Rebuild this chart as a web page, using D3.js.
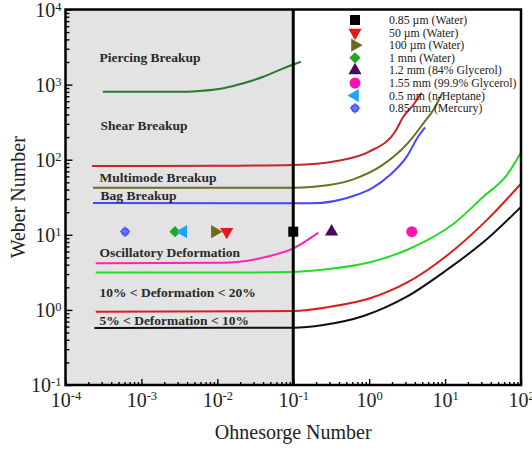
<!DOCTYPE html>
<html>
<head>
<meta charset="utf-8">
<script src="https://cdn.jsdelivr.net/npm/d3@7"></script>
<style>
  html, body { margin: 0; padding: 0; background: #fff; }
  svg { display: block; font-family: "Liberation Serif", "Times New Roman", serif; }
</style>
</head>
<body>
<svg id="chart" width="532" height="451"></svg>
<script>
// ---- Regime boundary curves: [Ohnesorge, Weber] ----
const piercingLine   = [[3.1e-4, 804], [0.004, 806], [0.0059, 822], [0.012, 893], [0.022, 1040], [0.0404, 1273], [0.0741, 1648], [0.126, 2018]];
const multimodeLine  = [[2.24e-4, 82.4], [0.01, 83], [0.1, 85], [0.39, 97], [1.0, 128], [2.2, 236], [2.8, 370], [3.8, 535], [4.9, 780]];
const bagUpperLine   = [[2.3e-4, 42.4], [0.1, 42.4], [0.184, 43.6], [0.62, 54.8], [1.39, 80.7], [3.3, 170], [5.18, 305], [7.0, 459], [9.2, 780]];
const bagLine        = [[2.3e-4, 26.5], [0.175, 26.3], [0.62, 32.9], [1.08, 41.6], [1.88, 62.5], [3.13, 110], [4.45, 205], [5.45, 270]];
const oscillLine     = [[2.5e-4, 4.17], [0.012, 4.25], [0.0448, 5.1], [0.1, 6.6], [0.214, 10.7]];
const def20Line      = [[2.5e-4, 3.14], [0.03, 3.15], [0.1, 3.2], [0.276, 3.47], [1.03, 4.31], [3.13, 6.28], [12.8, 13.9], [31.9, 32.1], [65, 62.5], [100, 125]];
const def10Line      = [[2.5e-4, 0.946], [0.1, 0.967], [0.305, 1.10], [1.03, 1.43], [3.13, 2.30], [10.5, 5.27], [35.4, 15.7], [100, 48]];
const def5Line       = [[2.4e-4, 0.574], [0.1, 0.58], [0.249, 0.63], [0.84, 0.83], [3.13, 1.50], [10.5, 3.40], [35.4, 8.7], [100, 23.5]];

// ---- Droplet cases ----
const dropletNames = ["0.85 \u00b5m (Water)", "50 \u00b5m (Water)", "100 \u00b5m (Water)", "1 mm (Water)",
                      "1.2 mm (84% Glycerol)", "1.55 mm (99.9% Glycerol)", "0.5 mm (n-Heptane)", "0.85 mm (Mercury)"];
const dropletOh = [0.1, 0.0133, 0.0093, 0.00277, 0.32, 3.64, 0.00356, 6.1e-4];
const dropletWe = [11, 11, 11, 11, 11, 11, 11, 11];

// ---- Regime labels and their anchor points (Oh, We) ----
const regimeNames = ["Piercing Breakup", "Shear Breakup", "Multimode Breakup", "Bag Breakup",
                     "Oscillatory Deformation", "10% < Deformation < 20%", "5% < Deformation < 10%"];
const regimeOh = [2.8e-4, 2.9e-4, 2.8e-4, 2.9e-4, 2.8e-4, 2.8e-4, 2.8e-4];
const regimeWe = [2020, 248, 50.9, 29.0, 5.1, 1.50, 0.63];

// ---- Axes ----
const xTickExponents = ["-4", "-3", "-2", "-1", "0", "1", "2"];
const yTickExponents = ["-1", "0", "1", "2", "3", "4"];
const shadedOhMax = 0.1;

// ---- Layout ----
const plot = { left: 65.5, right: 521, top: 9.5, bottom: 385 };
const svg = d3.select("#chart");

const x = d3.scaleLog().domain([1e-4, 1e2]).range([plot.left, plot.right]);
const y = d3.scaleLog().domain([1e-1, 1e4]).range([plot.bottom, plot.top]);

// grey region for Oh < 0.1
svg.append("rect")
  .attr("x", x(1e-4)).attr("y", plot.top)
  .attr("width", x(shadedOhMax) - x(1e-4)).attr("height", plot.bottom - plot.top)
  .attr("fill", "#e3e3e3");

// ticks (inward) via d3 axes
const majorX = xTickExponents.map(e => Math.pow(10, +e));
const majorY = yTickExponents.map(e => Math.pow(10, +e));
const minorOf = majors => {
  const out = [];
  majors.slice(0, -1).forEach(m => { for (let k = 2; k <= 9; k++) out.push(m * k); });
  return out;
};

svg.append("g").attr("transform", `translate(0,${plot.bottom})`)
  .call(d3.axisBottom(x).tickValues(minorOf(majorX)).tickSize(-3).tickFormat(""));
const gxMajor = svg.append("g").attr("transform", `translate(0,${plot.bottom})`)
  .call(d3.axisBottom(x).tickValues(majorX).tickSize(-6).tickFormat(""));

svg.append("g").attr("transform", `translate(${plot.left},0)`)
  .call(d3.axisLeft(y).tickValues(minorOf(majorY)).tickSize(-4).tickFormat(""));
const gyMajor = svg.append("g").attr("transform", `translate(${plot.left},0)`)
  .call(d3.axisLeft(y).tickValues(majorY).tickSize(-7).tickFormat(""));

svg.selectAll(".domain").remove();
svg.selectAll(".tick line").attr("stroke", "#000").attr("stroke-width", 1.4);

// power-of-ten tick labels
gxMajor.selectAll(".tick").each(function(d, i) {
  const t = d3.select(this).append("text")
    .attr("y", 22).attr("fill", "#222").attr("text-anchor", "middle")
    .attr("font-size", 20).attr("font-family", "Liberation Serif, serif");
  t.append("tspan").text("10");
  t.append("tspan").attr("dy", -7.5).attr("font-size", 12.5).text(xTickExponents[i]);
});
gyMajor.selectAll(".tick").each(function(d, i) {
  const t = d3.select(this).append("text")
    .attr("x", -4).attr("y", 6.5).attr("fill", "#222").attr("text-anchor", "end")
    .attr("font-size", 20).attr("font-family", "Liberation Serif, serif");
  t.append("tspan").text("10");
  t.append("tspan").attr("dy", -6).attr("font-size", 12.5).text(yTickExponents[i]);
});

// boundary curves
const line = d3.line().x(d => x(d[0])).y(d => y(d[1])).curve(d3.curveMonotoneX);
const curves = [
  [piercingLine, "#2b7a2b"],
  [multimodeLine, "#c4262a"],
  [bagUpperLine, "#6e6e1e"],
  [bagLine, "#4646ff"],
  [oscillLine, "#ff22b4"],
  [def20Line, "#22dd22"],
  [def10Line, "#dd1c1c"],
  [def5Line, "#111111"]
];
svg.append("clipPath").attr("id", "plotclip").append("rect")
  .attr("x", plot.left).attr("y", plot.top)
  .attr("width", plot.right - plot.left).attr("height", plot.bottom - plot.top);
const gLines = svg.append("g").attr("clip-path", "url(#plotclip)");
curves.forEach(([data, color]) => {
  gLines.append("path").attr("d", line(data))
    .attr("fill", "none").attr("stroke", color).attr("stroke-width", 2);
});

// Oh = 0.1 divider
svg.append("line")
  .attr("x1", x(shadedOhMax)).attr("x2", x(shadedOhMax))
  .attr("y1", plot.top).attr("y2", plot.bottom)
  .attr("stroke", "#000").attr("stroke-width", 3);

// regime labels
regimeNames.forEach((name, i) => {
  svg.append("text")
    .attr("x", x(regimeOh[i])).attr("y", y(regimeWe[i]))
    .attr("font-size", 13.5).attr("font-weight", "bold").attr("fill", "#2a2a2a")
    .text(name);
});

// droplet markers
const markerStyle = [
  { type: d3.symbolSquare,   size: 100, rot: 0,   color: "#000000" },
  { type: d3.symbolTriangle, size: 75,  rot: 180, color: "#e8161a" },
  { type: d3.symbolTriangle, size: 75,  rot: 90,  color: "#6b6b1c" },
  { type: d3.symbolSquare,   size: 64,  rot: 45,  color: "#1faa1f" },
  { type: d3.symbolTriangle, size: 75,  rot: 0,   color: "#4d0a5a" },
  { type: d3.symbolCircle,   size: 95,  rot: 0,   color: "#ff12b0" },
  { type: d3.symbolTriangle, size: 75,  rot: -90, color: "#1fa3ff" },
  { type: "cross-circle",    size: 0,   rot: 0,   color: "#4a5aff" }
];
function drawMarker(g, i, cx, cy) {
  const s = markerStyle[i];
  if (s.type === "cross-circle") {
    g.append("circle").attr("cx", cx).attr("cy", cy).attr("r", 4.2).attr("fill", s.color);
    g.append("path").attr("d", `M${cx - 5.2},${cy}H${cx + 5.2}M${cx},${cy - 5.2}V${cy + 5.2}`)
      .attr("stroke", s.color).attr("stroke-width", 1.3);
    g.append("path").attr("d", `M${cx - 3},${cy}H${cx + 3}M${cx},${cy - 3}V${cy + 3}`)
      .attr("stroke", "#8f9bff").attr("stroke-width", 0.7);
    return;
  }
  g.append("path")
    .attr("d", d3.symbol().type(s.type).size(s.size)())
    .attr("transform", `translate(${cx},${cy}) rotate(${s.rot})`)
    .attr("fill", s.color);
}
const gMarks = svg.append("g");
dropletOh.forEach((oh, i) => drawMarker(gMarks, i, x(oh), y(dropletWe[i])));

// legend
const legend = svg.append("g");
dropletNames.forEach((name, i) => {
  const cy = 20 + i * 12.6;
  drawMarker(legend, i, 355, cy);
  legend.append("text")
    .attr("x", 389).attr("y", cy + 4)
    .attr("font-size", 11.8).attr("fill", "#222")
    .text(name);
});

// frame
svg.append("rect")
  .attr("x", plot.left).attr("y", plot.top)
  .attr("width", plot.right - plot.left).attr("height", plot.bottom - plot.top)
  .attr("fill", "none").attr("stroke", "#000").attr("stroke-width", 2.5);

// axis titles
svg.append("text")
  .attr("x", (plot.left + plot.right) / 2).attr("y", 439)
  .attr("text-anchor", "middle").attr("font-size", 20).attr("fill", "#222")
  .text("Ohnesorge Number");
svg.append("text")
  .attr("transform", `translate(25,${(plot.top + plot.bottom) / 2}) rotate(-90)`)
  .attr("text-anchor", "middle").attr("font-size", 20).attr("fill", "#222")
  .text("Weber Number");
</script>
</body>
</html>
